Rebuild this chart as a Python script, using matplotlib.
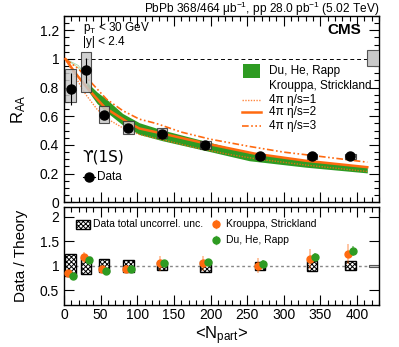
import numpy as np
import matplotlib
matplotlib.use("Agg")
import matplotlib.pyplot as plt
from matplotlib.patches import Rectangle
from matplotlib.lines import Line2D

plt.rcParams['font.family'] = ['Liberation Sans', 'DejaVu Sans']
plt.rcParams['mathtext.fontset'] = 'custom'
plt.rcParams['mathtext.rm'] = 'Liberation Sans'
plt.rcParams['mathtext.it'] = 'Liberation Sans:italic'
plt.rcParams['mathtext.bf'] = 'Liberation Sans:bold'
plt.rcParams['hatch.color'] = '#8a8a8a'
plt.rcParams['hatch.linewidth'] = 0.7

# ---------------- data ----------------
npart = [9, 30.5, 55, 88, 134, 193, 268, 339, 391]
raa = [0.79, 0.92, 0.61, 0.52, 0.48, 0.40, 0.32, 0.32, 0.32]
raa_stat = [0.11, 0.09, 0.03, 0.02, 0.02, 0.02, 0.01, 0.01, 0.01]
raa_syst_lo = [0.09, 0.15, 0.06, 0.04, 0.03, 0.03, 0.02, 0.02, 0.02]
raa_syst_hi = [0.14, 0.13, 0.065, 0.045, 0.035, 0.03, 0.02, 0.02, 0.02]
glob_raa = [0.95, 1.06]
glob_ratio = [0.98, 1.02]

# Du, He, Rapp band
dhr_x = [31, 45, 58, 80, 103, 134, 194, 253, 330, 414]
dhr_hi = [0.84, 0.77, 0.72, 0.62, 0.555, 0.505, 0.425, 0.345, 0.29, 0.25]
dhr_lo = [0.79, 0.69, 0.63, 0.54, 0.473, 0.43, 0.36, 0.29, 0.245, 0.205]
dhr_thin_x = [2, 19.5, 33]
dhr_thin_hi = [1.0, 0.955, 0.86]
dhr_thin_lo = [1.0, 0.94, 0.83]

# Krouppa, Strickland curves
ks1_x = [2, 15, 30, 45, 60, 80, 103, 134, 180, 230, 267, 330, 414]
ks1_y = [1.0, 0.88, 0.75, 0.65, 0.58, 0.52, 0.473, 0.437, 0.38, 0.33, 0.30, 0.26, 0.215]
ks2_x = [2, 15, 33, 56, 88, 103, 134, 194, 260, 330, 414]
ks2_y = [1.0, 0.905, 0.79, 0.66, 0.555, 0.515, 0.48, 0.41, 0.34, 0.29, 0.245]
ks3_x = [2, 20, 40, 58, 80, 103, 126, 160, 200, 253, 300, 350, 414]
ks3_y = [1.0, 0.93, 0.82, 0.72, 0.64, 0.58, 0.55, 0.49, 0.44, 0.39, 0.35, 0.32, 0.28]

# ratio panel
ratio_unc_hi = [0.25, 0.17, 0.13, 0.11, 0.08, 0.10, 0.08, 0.09, 0.09]
ratio_unc_lo = [0.21, 0.17, 0.13, 0.12, 0.08, 0.12, 0.08, 0.10, 0.09]
ratio_ks = [0.845, 1.17, 0.925, 0.94, 1.05, 1.05, 1.0, 1.135, 1.24]
ratio_ks_err = [0.05, 0.12, 0.06, 0.08, 0.15, 0.15, 0.15, 0.2, 0.2]
ratio_dhr = [0.80, 1.115, 0.90, 0.93, 1.05, 1.07, 1.04, 1.185, 1.31]
ratio_dhr_err = [0.03, 0.07, 0.04, 0.05, 0.07, 0.07, 0.07, 0.08, 0.1]

ORANGE = '#FF6A10'
GREEN = '#2E9B22'
DASHDOT = (0, (4, 1.5, 1, 1.5, 1, 1.5))
DOTTED = (0, (1, 1))

W, H = 399, 347
fig = plt.figure(figsize=(W / 100, H / 100), dpi=100)

def ax_rect(x0, x1, ytop, ybot):
    return [x0 / W, 1 - ybot / H, (x1 - x0) / W, (ybot - ytop) / H]

ax1 = fig.add_axes(ax_rect(64, 379, 16, 202.3))
ax2 = fig.add_axes(ax_rect(64, 379, 207, 305))

XMAX = 430
bw = 7

# ---- top panel ----
ax1.fill_between(dhr_x, dhr_lo, dhr_hi, color=GREEN, lw=0, zorder=2)
ax1.plot(dhr_thin_x, dhr_thin_hi, color=GREEN, lw=0.6, alpha=0.4, zorder=2)
ax1.plot(dhr_thin_x, dhr_thin_lo, color=GREEN, lw=0.6, alpha=0.4, zorder=2)
ax1.plot(ks1_x, ks1_y, color=ORANGE, ls=DOTTED, lw=1.0, alpha=0.8, zorder=3)
ax1.plot(ks2_x, ks2_y, color=ORANGE, ls='-', lw=1.8, zorder=3)
ax1.plot(ks3_x, ks3_y, color=ORANGE, ls=DASHDOT, lw=1.2, zorder=3)
ax1.axhline(1.0, color='black', ls=(0, (4, 3)), lw=0.7, zorder=1)
for x, y, lo, hi in zip(npart, raa, raa_syst_lo, raa_syst_hi):
    ax1.add_patch(Rectangle((x - bw, y - lo), 2 * bw, lo + hi, facecolor='#c8c8c8',
                            edgecolor='#333333', lw=0.8, alpha=0.85, zorder=4))
ax1.add_patch(Rectangle((XMAX - 17, glob_raa[0]), 17, glob_raa[1] - glob_raa[0],
                        facecolor='#c8c8c8', edgecolor='#555555', lw=0.8, zorder=4))
ax1.errorbar(npart, raa, yerr=raa_stat, fmt='o', color='black', ms=6.5, elinewidth=0.8,
             capsize=0, zorder=5)
ax1.set_xlim(0, XMAX)
ax1.set_ylim(0, 1.3)
ax1.set_xticks(np.arange(0, 401, 50))
ax1.set_xticks(np.arange(0, 431, 10), minor=True)
ax1.set_yticks(np.arange(0, 1.21, 0.2))
ax1.set_yticklabels(['0', '0.2', '0.4', '0.6', '0.8', '1', '1.2'])
ax1.set_yticks(np.arange(0, 1.31, 0.05), minor=True)
ax1.tick_params(labelbottom=False)
ax1.set_ylabel(r'R$_{\mathrm{AA}}$', fontsize=12)

def t1(px, py, s, **kw):
    ax1.text((px - 64) / 315, (202.3 - py) / 186.3, s, transform=ax1.transAxes, **kw)

# legend (top)
ax1.add_patch(Rectangle(((243 - 64) / 315, (202.3 - 78) / 186.3), 17 / 315, 14 / 186.3,
                        transform=ax1.transAxes, color=GREEN, lw=0, zorder=6))
t1(269, 71, 'Du, He, Rapp', fontsize=8.5, va='center')
t1(269, 86, 'Krouppa, Strickland', fontsize=8.5, va='center')
for py, ls, lw, a, lab in [(100, DOTTED, 1.0, 0.8, '4π η/s=1'),
                           (112.3, '-', 1.8, 1.0, '4π η/s=2'),
                           (126.3, DASHDOT, 1.2, 1.0, '4π η/s=3')]:
    fy = (202.3 - py) / 186.3
    ax1.add_line(Line2D([(242 - 64) / 315, (261 - 64) / 315], [fy, fy], transform=ax1.transAxes,
                        color=ORANGE, ls=ls, lw=lw, alpha=a))
    t1(269, py, lab, fontsize=8.5, va='center')

t1(83, 27.5, r'p$_{\mathrm{T}}$ < 30 GeV', fontsize=8.5, va='center')
t1(83, 42, '|y| < 2.4', fontsize=8.5, va='center')
t1(361, 30.5, 'CMS', fontsize=11, fontweight='bold', ha='right', va='center')
t1(82, 157, 'ϒ(1S)', fontsize=11, va='center', family=['DejaVu Sans'])
fy = (202.3 - 177) / 186.3
ax1.add_line(Line2D([(83 - 64) / 315, (95 - 64) / 315], [fy, fy], transform=ax1.transAxes,
                    color='black', lw=0.8))
ax1.plot([(88.5 - 64) / 315], [fy], 'o', color='black', ms=6.5, transform=ax1.transAxes)
t1(97, 177, 'Data', fontsize=8.5, va='center')

fig.text(379 / W, 1 - 12.5 / H, r'PbPb 368/464 μb$^{-1}$, pp 28.0 pb$^{-1}$ (5.02 TeV)',
         fontsize=8.6, ha='right', va='baseline')

# ---- bottom panel ----
ax2.axhline(1.0, color='#888888', ls=(0, (2, 2)), lw=1.0, zorder=1)
for x, lo, hi in zip(npart, ratio_unc_lo, ratio_unc_hi):
    ax2.add_patch(Rectangle((x - bw, 1 - lo), 2 * bw, lo + hi, facecolor='white',
                            edgecolor='black', lw=1.0, hatch='xxxxxxx', zorder=2))
ax2.add_patch(Rectangle((XMAX - 14, glob_ratio[0]), 14, glob_ratio[1] - glob_ratio[0],
                        facecolor='#c8c8c8', edgecolor='#555555', lw=0.8, zorder=2))
xk = [x - 3 for x in npart]
xd = [x + 3 for x in npart]
ax2.errorbar(xk, ratio_ks, yerr=ratio_ks_err, fmt='none', ecolor=ORANGE, alpha=0.45,
             elinewidth=1.2, zorder=3)
ax2.plot(xk, ratio_ks, 'o', color=ORANGE, ms=5, zorder=4)
ax2.errorbar(xd, ratio_dhr, yerr=ratio_dhr_err, fmt='none', ecolor=GREEN, alpha=0.6,
             elinewidth=1.2, zorder=3)
ax2.plot(xd, ratio_dhr, 'o', color=GREEN, ms=5, zorder=4)
ax2.set_xlim(0, XMAX)
ax2.set_ylim(0.2, 2.2)
ax2.set_xticks(np.arange(0, 401, 50))
ax2.set_xticks(np.arange(0, 431, 10), minor=True)
ax2.set_yticks([0.5, 1, 1.5, 2])
ax2.set_yticklabels(['0.5', '1', '1.5', '2'])
ax2.set_xlabel(r'<N$_{\mathrm{part}}$>', fontsize=12, labelpad=2)
ax2.set_ylabel('Data / Theory', fontsize=11)

def t2(px, py, s, **kw):
    ax2.text((px - 64) / 315, (305 - py) / 98, s, transform=ax2.transAxes, **kw)

ax2.add_patch(Rectangle(((76 - 64) / 315, (305 - 228.5) / 98), 14 / 315, 9 / 98,
                        transform=ax2.transAxes, facecolor='white', edgecolor='black',
                        lw=1.0, hatch='xxxxxxx', zorder=6))
t2(93, 224, 'Data total uncorrel. unc.', fontsize=7.5, va='center')
for py, c, lab in [(224, ORANGE, 'Krouppa, Strickland'), (240, GREEN, 'Du, He, Rapp')]:
    fx = (216 - 64) / 315
    fyy = (305 - py) / 98
    ax2.add_line(Line2D([fx, fx], [fyy - 0.045, fyy + 0.045], transform=ax2.transAxes,
                        color=c, lw=1.0, alpha=0.6))
    ax2.plot([fx], [fyy], 'o', color=c, ms=5, transform=ax2.transAxes)
    t2(226, py, lab, fontsize=7.5, va='center')

for ax in (ax1, ax2):
    ax.tick_params(which='both', direction='in', top=True, right=True, labelsize=10)
    ax.tick_params(which='major', length=7, width=0.8)
    ax.tick_params(which='minor', length=3.5, width=0.8)
    for s in ax.spines.values():
        s.set_linewidth(1.0)
ax2.tick_params(axis='x', pad=2)
ax1.yaxis.set_label_coords(-0.115, 0.5)
ax2.yaxis.set_label_coords(-0.115, 0.5)

fig.savefig('out.png', dpi=100)
